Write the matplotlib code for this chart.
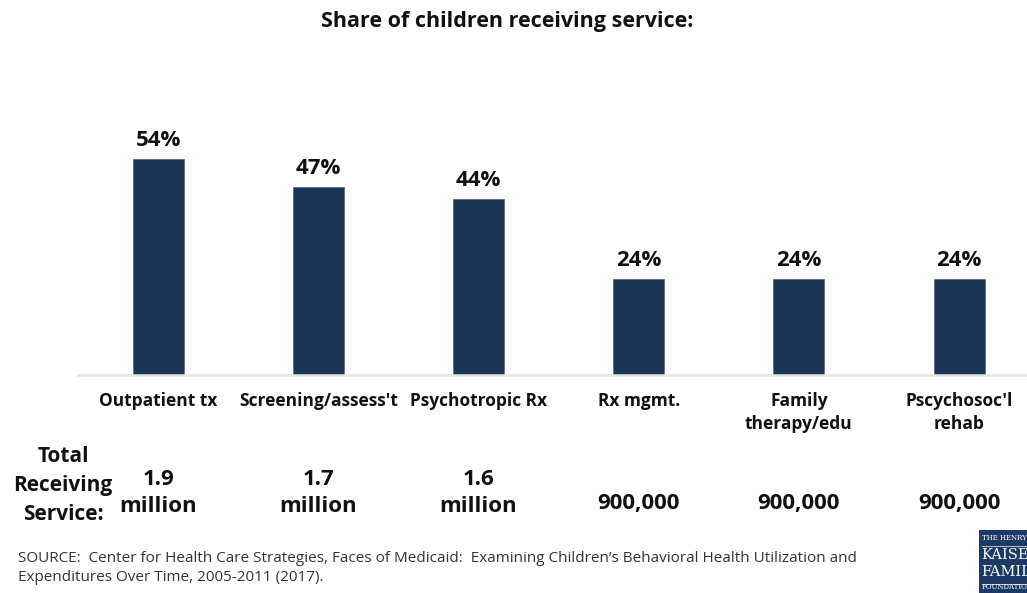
import matplotlib.pyplot as plt
from matplotlib.patches import Rectangle

# Services and share of children receiving each one (%)
services = ['Outpatient tx', "Screening/assess't", 'Psychotropic Rx',
            'Rx mgmt.', 'Family\ntherapy/edu', "Pscychosoc'l\nrehab"]
shares = [54, 47, 44, 24, 24, 24]
# Total number of children receiving each service
totals = ['1.9\nmillion', '1.7\nmillion', '1.6\nmillion', '900,000', '900,000', '900,000']

navy = '#1a3458'
plt.rcParams['font.family'] = ['Open Sans', 'DejaVu Sans']

W, H = 1027, 593
fig = plt.figure(figsize=(W / 100, H / 100), dpi=100)
# axes placed in pixel terms: baseline at y=375, top at y=95
ax = fig.add_axes([78 / W, 1 - 375 / H, (W - 78) / W, 280 / H])

x = range(len(services))
ax.bar(x, shares, width=0.318, color=navy, edgecolor='#5a6f8f', linewidth=0.6, zorder=2)
for i, v in zip(x, shares):
    ax.text(i, v + 2.0, f'{v}%', ha='center', va='bottom', fontsize=16,
            fontweight='bold', color='#111111')

ax.set_xlim(-0.5, 5.424)
ax.set_ylim(0, 70)
for s in ['top', 'right', 'left']:
    ax.spines[s].set_visible(False)
ax.spines['bottom'].set_color('#e3e3e3')
ax.spines['bottom'].set_linewidth(1.8)
ax.set_yticks([])
ax.set_xticks(list(x))
ax.set_xticklabels(services, fontsize=12.5, fontweight='bold', color='#111111',
                   linespacing=1.35, va='top')
ax.tick_params(axis='x', length=0, pad=12)

# totals row under the category labels
fig.text(63 / W, 1 - 485 / H, 'Total\nReceiving\nService:', ha='center', va='center',
         fontsize=15, fontweight='bold', linespacing=1.5, color='#111111')
for i, t in zip(x, totals):
    xp = ax.transData.transform((i, 0))[0] / W
    yc = 493 if '\n' in t else 503
    fig.text(xp, 1 - yc / H, t, ha='center', va='center', fontsize=16,
             fontweight='bold', linespacing=1.4, color='#111111')

fig.text(507 / W, 1 - 22 / H, 'Share of children receiving service:', ha='center',
         va='center', fontsize=15.5, fontweight='bold', color='#111111')

fig.text(18 / W, 1 - 568 / H,
         'SOURCE:  Center for Health Care Strategies, Faces of Medicaid:  Examining Children\u2019s '
         'Behavioral Health Utilization and\nExpenditures Over Time, 2005-2011 (2017).',
         ha='left', va='center', fontsize=11, color='#333333', linespacing=1.45)

# foundation logo block in the corner
logo = fig.add_axes([979 / W, 0, (W - 979) / W, 63 / H])
logo.set_xlim(0, 48)
logo.set_ylim(0, 63)
logo.axis('off')
logo.add_patch(Rectangle((0, 0), 48, 63, color='#1d3a66', clip_on=True))
logo.plot([3, 48], [47, 47], color='white', lw=0.5)
logo.plot([3, 48], [9, 9], color='white', lw=0.5)
logo.text(3, 51, 'THE HENRY J.', fontsize=5, color='white', family='DejaVu Serif',
          va='bottom', clip_on=True)
logo.text(2, 38, 'KAISER', fontsize=10.5, color='white', family='DejaVu Serif',
          va='center', clip_on=True)
logo.text(2, 21, 'FAMILY', fontsize=10.5, color='white', family='DejaVu Serif',
          va='center', clip_on=True)
logo.text(3, 2, 'FOUNDATION', fontsize=5, color='white', family='DejaVu Serif',
          va='bottom', clip_on=True)

fig.savefig('out.png', dpi=100)
